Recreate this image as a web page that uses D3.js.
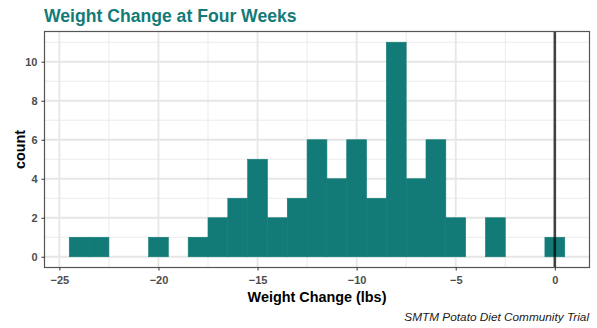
<!DOCTYPE html>
<html>
<head>
<meta charset="utf-8">
<script src="https://cdn.jsdelivr.net/npm/d3@7"></script>
<style>
  html, body { margin: 0; padding: 0; background: #fff; }
  svg { display: block; font-family: "Liberation Sans", Arial, Helvetica, sans-serif; }
</style>
</head>
<body>
<svg id="chart" width="597" height="328"></svg>
<script>
// Histogram of weight change (lbs), bins of width 1 centred on whole pounds
const binCenters = [-24, -23, -22, -21, -20, -19, -18, -17, -16, -15, -14, -13, -12, -11, -10, -9, -8, -7, -6, -5, -4, -3, -2, -1, 0];
const counts     = [  1,   1,   0,   0,   1,   0,   1,   2,   3,   5,   2,   3,   6,   4,   6,   3,  11,   4,   6,   2,   0,   2,   0,   0, 1];
const xTicks = [-25, -20, -15, -10, -5, 0];
const yTicks = [0, 2, 4, 6, 8, 10];
const xMinor = [-22.5, -17.5, -12.5, -7.5, -2.5];
const yMinor = [1, 3, 5, 7, 9, 11];
const referenceLine = 0;

const titleText = "Weight Change at Four Weeks";
const xTitle = "Weight Change (lbs)";
const yTitle = "count";
const captionText = "SMTM Potato Diet Community Trial";

const teal = "#137b77";
const svg = d3.select("#chart");
const panel = { left: 44.5, right: 589.5, top: 31.5, bottom: 267.5 };

const x = d3.scaleLinear().domain([-25.75, 1.75]).range([panel.left, panel.right]);
const y = d3.scaleLinear().domain([-0.55, 11.55]).range([panel.bottom, panel.top]);

// grid
const grid = svg.append("g");
grid.selectAll(".xminor").data(xMinor).enter().append("line")
  .attr("x1", d => x(d)).attr("x2", d => x(d)).attr("y1", panel.top).attr("y2", panel.bottom)
  .attr("stroke", "#ebebeb").attr("stroke-width", 1);
grid.selectAll(".yminor").data(yMinor).enter().append("line")
  .attr("y1", d => y(d)).attr("y2", d => y(d)).attr("x1", panel.left).attr("x2", panel.right)
  .attr("stroke", "#ebebeb").attr("stroke-width", 1);
grid.selectAll(".xmajor").data(xTicks).enter().append("line")
  .attr("x1", d => x(d)).attr("x2", d => x(d)).attr("y1", panel.top).attr("y2", panel.bottom)
  .attr("stroke", "#e6e6e6").attr("stroke-width", 1.8);
grid.selectAll(".ymajor").data(yTicks).enter().append("line")
  .attr("y1", d => y(d)).attr("y2", d => y(d)).attr("x1", panel.left).attr("x2", panel.right)
  .attr("stroke", "#e6e6e6").attr("stroke-width", 1.8);

// bars (thin same-colour stroke closes the seams between neighbours)
svg.append("g").selectAll("rect")
  .data(binCenters.map((c, i) => ({ c, n: counts[i] })).filter(d => d.n > 0))
  .enter().append("rect")
  .attr("x", d => x(d.c - 0.5))
  .attr("width", d => x(d.c + 0.5) - x(d.c - 0.5))
  .attr("y", d => y(d.n))
  .attr("height", d => y(0) - y(d.n))
  .attr("fill", teal).attr("stroke", teal).attr("stroke-width", 0.6);

// reference line at zero
svg.append("line")
  .attr("x1", x(referenceLine)).attr("x2", x(referenceLine))
  .attr("y1", panel.top).attr("y2", panel.bottom)
  .attr("stroke", "#000").attr("stroke-opacity", 0.72).attr("stroke-width", 2.6);

// panel border
svg.append("rect")
  .attr("x", panel.left).attr("y", panel.top)
  .attr("width", panel.right - panel.left).attr("height", panel.bottom - panel.top)
  .attr("fill", "none").attr("stroke", "#555").attr("stroke-width", 1.2);

// axes
const xAxis = svg.append("g").attr("transform", `translate(0,${panel.bottom})`)
  .call(d3.axisBottom(x).tickValues(xTicks).tickSize(3).tickPadding(4).tickFormat(d3.format("d")));
const yAxis = svg.append("g").attr("transform", `translate(${panel.left},0)`)
  .call(d3.axisLeft(y).tickValues(yTicks).tickSize(3).tickPadding(4).tickFormat(d3.format("d")));
[xAxis, yAxis].forEach(a => {
  a.select(".domain").remove();
  a.selectAll(".tick line").attr("stroke", "#333").attr("stroke-width", 1);
  a.selectAll(".tick text").attr("fill", "#4d4d4d").style("font-size", "11px").style("font-weight", "bold")
    .style("font-family", "'Liberation Sans', Arial, sans-serif");
});
xAxis.selectAll(".tick text").attr("dy", "0.9em");

// titles
svg.append("text").attr("x", 44).attr("y", 22)
  .attr("fill", teal).style("font-size", "17.6px").style("font-weight", "bold")
  .text(titleText);
svg.append("text").attr("x", (panel.left + panel.right) / 2).attr("y", 302)
  .attr("text-anchor", "middle").attr("fill", "#000")
  .style("font-size", "14.4px").style("font-weight", "bold").text(xTitle);
svg.append("text")
  .attr("transform", `translate(25,${(panel.top + panel.bottom) / 2}) rotate(-90)`)
  .attr("text-anchor", "middle").attr("fill", "#000")
  .style("font-size", "14.4px").style("font-weight", "bold").text(yTitle);
svg.append("text").attr("x", 589).attr("y", 321)
  .attr("text-anchor", "end").attr("fill", "#1a1a1a")
  .style("font-size", "11.8px").style("font-style", "italic").text(captionText);
</script>
</body>
</html>
